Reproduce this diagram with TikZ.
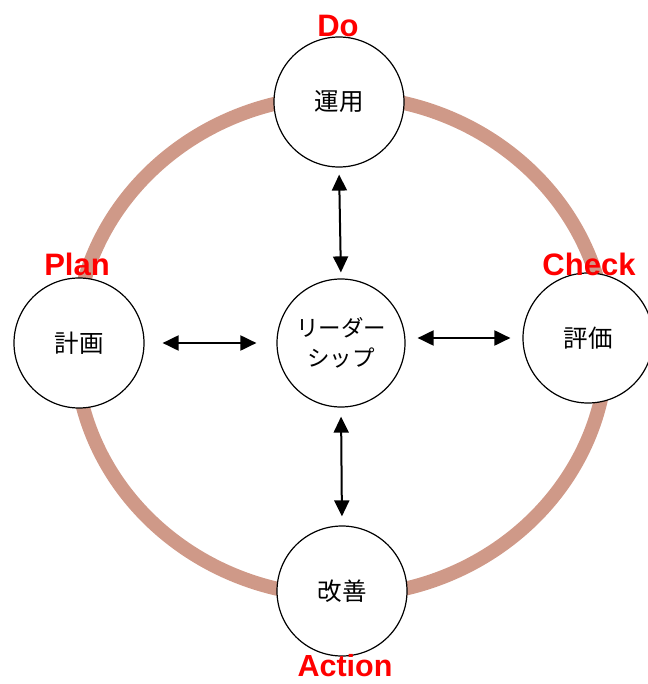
\documentclass[tikz,border=0pt]{standalone}
\usepackage{fontspec}
\setmainfont{Liberation Sans}
\newfontfamily\jp{Noto Sans CJK JP}
\usetikzlibrary{arrows.meta}
\definecolor{ringc}{RGB}{207,153,136}
\definecolor{pdca}{RGB}{255,0,0}
\tikzset{
  x=1pt, y=-1pt,
  ringline/.style={draw=ringc, line width=14pt},
  stage/.style={circle, draw=black, fill=white, line width=1.2pt, minimum size=130pt, inner sep=0pt, font=\jp\fontsize{24.5}{30}\selectfont, align=center},
  phase/.style={text=pdca, font=\bfseries\fontsize{31}{31}\selectfont, anchor=base, inner sep=0pt},
  dbl/.style={{Triangle[length=16pt,width=15pt]}-{Triangle[length=16pt,width=15pt]}, line width=2pt, black}
}
\begin{document}
\begin{tikzpicture}
\useasboundingbox (0,0) rectangle (647,684);
\draw[ringline] (341,346) ellipse [x radius=266pt, y radius=250pt];
\node[stage] (do) at (339,102) {運用};
\node[stage] (pl) at (79,343) {計画};
\node[stage, minimum size=128pt, font=\jp\fontsize{22.5}{30}\selectfont] (lead) at (341,343) {リーダー\\シップ};
\node[stage] (chk) at (588,338) {評価};
\node[stage] (act) at (342,591) {改善};
\node[phase] (tdo) at (338,37) {Do};
\node[phase] (tpl) at (77,276) {Plan};
\node[phase] (tchk) at (589,275) {Check};
\node[phase, font=\bfseries\fontsize{30.5}{31}\selectfont] (tact) at (345,676) {Action};
\draw[dbl, shorten <=7pt, shorten >=6pt] (do.south) -- (lead.north);
\draw[dbl, shorten <=9pt, shorten >=9pt] (lead.south) -- (act.north);
\draw[dbl, shorten <=18pt, shorten >=20pt] (pl.east) -- (lead.west);
\draw[dbl, shorten <=12pt, shorten >=12pt] (lead.east |- chk.west) -- (chk.west);
\end{tikzpicture}
\end{document}
